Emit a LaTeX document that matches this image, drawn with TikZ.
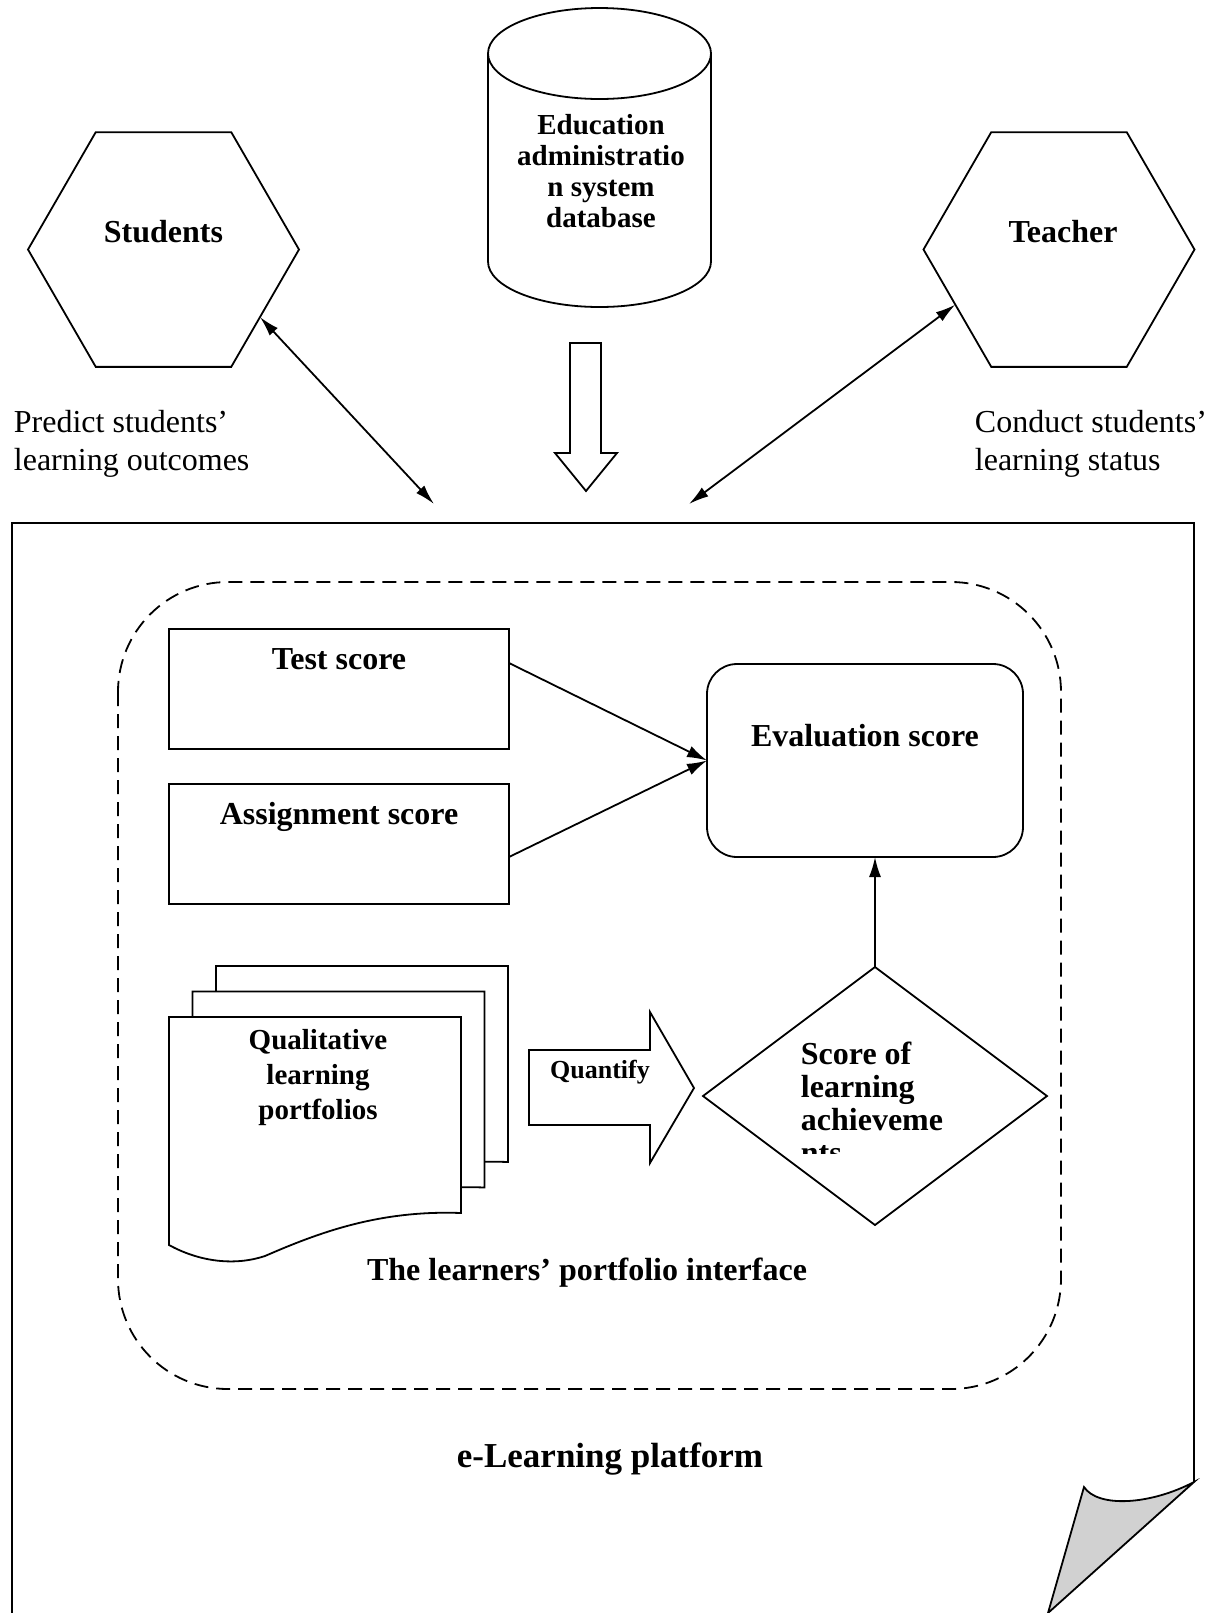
\documentclass[tikz,border=0pt]{standalone}
\usepackage{fontspec}
\setmainfont{Liberation Serif}
\usetikzlibrary{shapes.geometric,arrows.meta}

\tikzset{
  hexa/.style={draw, regular polygon, regular polygon sides=6, minimum size=135.5pt, inner sep=0pt, outer sep=0pt},
  scorebox/.style={draw, minimum width=170pt, minimum height=60pt, inner sep=0pt, outer sep=0pt},
  bold16/.style={font=\fontsize{16}{19}\selectfont\bfseries},
  plain16/.style={font=\fontsize{16}{19}\selectfont, align=left, anchor=west, inner sep=0pt},
  conn/.style={-{Latex[length=10pt,width=6pt]}},
  dbl/.style={{Latex[length=10pt,width=5.5pt]}-{Latex[length=10pt,width=5.5pt]}},
}

\begin{document}
\begin{tikzpicture}[x=0.5pt, y=-0.5pt, line width=0.9pt]
    \useasboundingbox (0,0) rectangle (1210,1613);

    % users and database
    \node[hexa] (stu) at (163.5,249.5) {};
    \node[bold16] (stutxt) at (163.5,232) {Students};
    \node[hexa] (tea) at (1059,249.5) {};
    \node[bold16] (teatxt) at (1063,232) {Teacher};

    \draw (488,53.5) -- (488,261.5) arc[start angle=180, end angle=0, x radius=111.5, y radius=45.5] -- (711,53.5);
    \draw (599.5,53.5) ellipse[x radius=111.5, y radius=45.5];
    \node[font=\fontsize{14.5}{15.5}\selectfont\bfseries, align=center] (dbtxt) at (601,171)
        {Education\\administratio\\n system\\database};
    \draw (570,343) -- (601,343) -- (601,453) -- (617,453) -- (586,491) -- (555,453) -- (570,453) -- cycle;

    \node[plain16] (predict) at (13,444) {Predict students’\\learning outcomes};
    \node[plain16] (conduct) at (974,444) {Conduct students’\\learning status};

    \coordinate (stuend) at (434,504);
    \coordinate (teaend) at (689,504);
    \draw[dbl] (stu.-35) -- (stuend);
    \draw[dbl] (tea.208) -- (teaend);

    % platform page with curled corner
    \draw (12,1613) -- (12,523) -- (1194,523) -- (1194,1482);
    \draw[fill=black!18] (1084,1487) .. controls (1098,1508) and (1150,1505) .. (1194,1482) -- (1048,1613) -- cycle;

    % portfolio interface
    \draw[dash pattern=on 7pt off 4pt, rounded corners=55pt] (118,582) rectangle (1061,1389);

    \node[scorebox] (test) at (339,689) {};
    \node[bold16] (testtxt) at (339,659) {Test score};
    \node[scorebox] (assign) at (339,844) {};
    \node[bold16] (assigntxt) at (339,817) {Assignment score};
    \node[scorebox, rounded corners=15pt, minimum width=158pt, minimum height=96.5pt] (eval) at (865,760.5) {};
    \node[bold16] (evaltxt) at (865,736) {Evaluation score};

    \draw[conn] ([yshift=13pt]test.east) -- (eval.west);
    \draw[conn] ([yshift=-6.5pt]assign.east) -- (eval.west);

    \foreach \d in {2,1,0}
        \draw[fill=white, shift={(23.5*\d,-25.5*\d)}] (169,1245) -- (169,1017) -- (461,1017) -- (461,1213)
            .. controls (380,1210) and (320,1232) .. (265,1256)
            .. controls (235,1266) and (200,1262) .. (169,1245) -- cycle;
    \node[font=\fontsize{14.5}{17.5}\selectfont\bfseries, align=center] (doctxt) at (318,1078)
        {Qualitative\\learning\\portfolios};

    \draw (529,1050) -- (650,1050) -- (650,1012) -- (694,1088) -- (650,1163) -- (650,1125) -- (529,1125) -- cycle;
    \node[font=\fontsize{13}{15}\selectfont\bfseries] (quant) at (600,1072) {Quantify};

    \node[draw, diamond, minimum width=172pt, minimum height=129pt, inner sep=0pt, outer sep=0pt] (achv) at (875,1096) {};
    \begin{scope}
        \clip (780,1020) rectangle (980,1153);
        \node[font=\fontsize{16}{16.5}\selectfont\bfseries, align=left, anchor=north west, inner sep=0pt] (achvtxt) at (800,1041)
            {Score of\\learning\\achieveme\\nts};
    \end{scope}
    \draw[conn] (achv.north) -- (achv.north |- eval.south);

    \node[bold16] (portftxt) at (587,1273) {The learners’ portfolio interface};
    \node[font=\fontsize{17.5}{20}\selectfont\bfseries] (platftxt) at (610,1459) {e-Learning platform};
\end{tikzpicture}
\end{document}
